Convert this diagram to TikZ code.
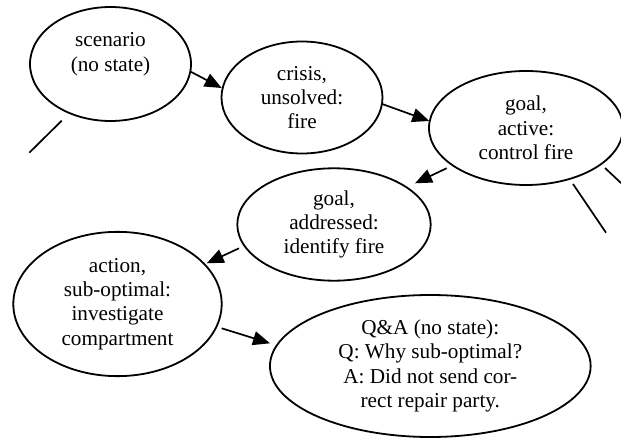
\documentclass[tikz,border=0pt]{standalone}
\usepackage{fontspec}
\setmainfont{Liberation Serif}
\usetikzlibrary{shapes.geometric,arrows.meta,calc}
\begin{document}
\begin{tikzpicture}[x=1pt,y=-1pt,
  bubble/.style={draw, ellipse, line width=1.8pt, inner sep=0pt, align=center,
    font=\fontsize{21.2}{24.4}\selectfont},
  link/.style={line width=1.7pt},
  flow/.style={link, -{Triangle[length=17pt,width=14pt]}}]
\useasboundingbox (0,0) rectangle (621,438);
\clip (0,0) rectangle (621,438);

% state nodes
\node[bubble, minimum width=161pt, minimum height=114pt] (scen) at (110.5,64)
  {scenario\\(no state)\\\mbox{}};
\node[bubble, minimum width=161pt, minimum height=112pt] (crisis) at (302,97.5)
  {crisis,\\unsolved:\\fire};
\node[bubble, minimum width=194pt, minimum height=114pt] (goal) at (526,128)
  {goal,\\active:\\control fire};
\node[bubble, minimum width=193.4pt, minimum height=112.4pt] (addr) at (334,224.5)
  {goal,\\addressed:\\identify fire};
\node[bubble, minimum width=208.4pt, minimum height=144.3pt] (act) at (117.5,304)
  {action,\\sub-optimal:\\investigate\\compartment};
\node[bubble, minimum width=320.7pt, minimum height=142pt] (qa) at (430.3,366)
  {Q\&A (no state):\\Q: Why sub-optimal?\\A: Did not send cor-\\rect repair party.};

% loose ends of edges leading out of view
\coordinate (scenout) at (29.3,152.7);
\coordinate (goalout1) at (606,232.7);
\coordinate (goalout2) at (626,187.7);

% transitions
\draw[flow] ($(scen.center)+(80.2,7.7)$) -- ($(crisis.center)+(-80.3,-9.5)$);
\draw[flow] ($(crisis.center)+(80.2,6.5)$) -- ($(goal.center)+(-96.7,-7)$);
\draw[flow] ($(goal.center)+(-79.3,40.2)$) -- ($(addr.center)+(81,-41.2)$);
\draw[flow] ($(addr.center)+(-95,23.8)$) -- ($(act.center)+(89.2,-40.7)$);
\draw[flow] ($(act.center)+(104.2,24.3)$) -- ($(qa.center)+(-160.3,-22.7)$);

% edges without visible targets
\draw[link] ($(scen.center)+(-48.8,56.7)$) -- (scenout);
\draw[link] ($(goal.center)+(47,56)$) -- (goalout1);
\draw[link] ($(goal.center)+(79,40)$) -- (goalout2);
\end{tikzpicture}
\end{document}
